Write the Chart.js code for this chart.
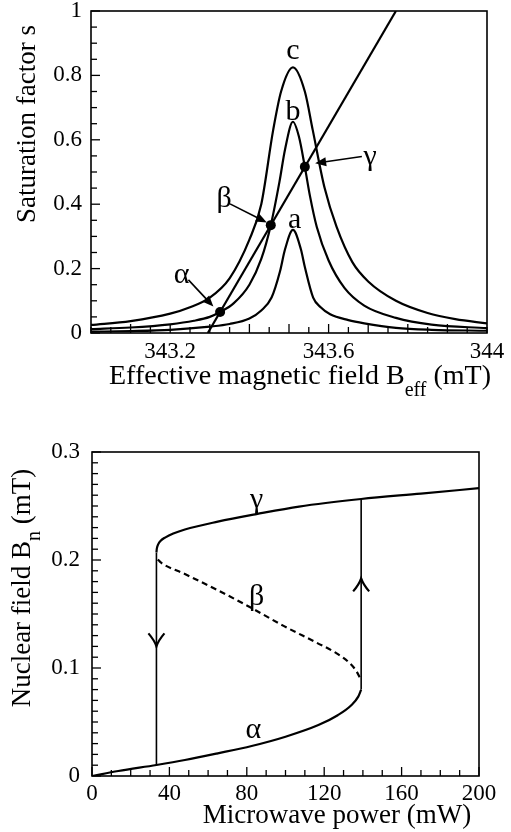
<!DOCTYPE html>
<html>
<head>
<meta charset="utf-8">
<script src="https://cdn.jsdelivr.net/npm/chart.js@4.4.1/dist/chart.umd.min.js"></script>
<style>
  body { margin: 0; background: #fff; }
  #wrap { position: relative; width: 511px; height: 832px; }
  canvas { position: absolute; left: 0; }
</style>
</head>
<body>
<div id="wrap">
  <canvas id="satChart" width="511" height="400" style="top:0"></canvas>
  <canvas id="nucChart" width="511" height="432" style="top:400px"></canvas>
</div>
<script>
// ---- top panel: saturation factor vs effective field ----
const fieldA = [343.00, 343.10, 343.20, 343.30, 343.35, 343.40, 343.43, 343.456, 343.477, 343.49, 343.51, 343.53, 343.54, 343.561, 343.58, 343.604, 343.65, 343.69, 343.77, 343.86, 344.00];
const satA   = [0.004, 0.006, 0.010, 0.020, 0.028, 0.045, 0.070, 0.110, 0.190, 0.260, 0.320, 0.260, 0.205, 0.110, 0.080, 0.058, 0.040, 0.030, 0.016, 0.010, 0.007];

const fieldB = [343.00, 343.10, 343.20, 343.26, 343.30, 343.326, 343.36, 343.40, 343.43, 343.454, 343.476, 343.49, 343.51, 343.525, 343.54, 343.553, 343.57, 343.60, 343.64, 343.69, 343.77, 343.86, 344.00];
const satB   = [0.012, 0.017, 0.027, 0.038, 0.050, 0.065, 0.092, 0.150, 0.230, 0.335, 0.470, 0.570, 0.656, 0.610, 0.516, 0.425, 0.330, 0.225, 0.140, 0.085, 0.047, 0.026, 0.015];

const fieldC = [343.00, 343.10, 343.20, 343.25, 343.30, 343.35, 343.40, 343.43, 343.46, 343.48, 343.51, 343.54, 343.56, 343.59, 343.62, 343.66, 343.70, 343.77, 343.85, 343.92, 344.00];
const satC   = [0.025, 0.037, 0.060, 0.080, 0.110, 0.170, 0.290, 0.400, 0.630, 0.750, 0.825, 0.750, 0.630, 0.450, 0.330, 0.220, 0.160, 0.100, 0.062, 0.043, 0.030];

// straight line and its three crossings with curve b
const lineField = [343.295, 343.77];
const lineSat   = [0, 1];
const dotField  = [343.326, 343.454, 343.540];
const dotSat    = [0.065, 0.335, 0.516];

const satYTicks   = [0, 0.2, 0.4, 0.6, 0.8, 1];
const fieldXTicks = [343.2, 343.6, 344];

// ---- bottom panel: nuclear field vs microwave power ----
const gammaPower = [33.3, 33.5, 34.2, 35.5, 38, 42, 48, 65, 85, 107, 139.1, 170, 200];
const gammaField = [0.207, 0.2105, 0.2145, 0.2178, 0.2210, 0.2245, 0.2283, 0.2355, 0.2425, 0.2495, 0.2565, 0.2615, 0.2665];

const betaPower = [34.0, 35.7, 48, 65, 82, 99, 116, 126.4, 133.3, 136.8, 139.0];
const betaField = [0.2005, 0.1975, 0.187, 0.172, 0.156, 0.139, 0.1235, 0.1136, 0.1043, 0.0966, 0.0889];

const alphaPower = [0, 13.6, 33.3, 48, 65, 82.5, 100, 117, 127, 134, 137.6, 139.1];
const alphaField = [0, 0.0046, 0.0102, 0.0148, 0.021, 0.0278, 0.0364, 0.0472, 0.0563, 0.0655, 0.0735, 0.080];

const downPower = [33.3, 33.3];
const downField = [0.207, 0.0102];
const upPower   = [139.1, 139.1];
const upField   = [0.080, 0.2565];

const powerXTicks   = [0, 40, 80, 120, 160, 200];
const nuclearYTicks = [0, 0.1, 0.2, 0.3];

const FONT = '"Liberation Serif", "Times New Roman", serif';

const pts = (xs, ys) => xs.map((x, i) => ({ x: x, y: ys[i] }));
const hasTick = (list, v) => list.some(t => Math.abs(t - v) < 1e-6);

function curve(xs, ys, extra) {
    return Object.assign({
        data: pts(xs, ys),
        borderColor: '#000',
        borderWidth: 2.2,
        pointRadius: 0,
        fill: false,
        tension: 0
    }, extra || {});
}

function axis(min, max, step, labels, size, pad, horizontal) {
    return {
        type: 'linear',
        min: min,
        max: max,
        grid: { display: false, drawTicks: false },
        border: { display: false },
        ticks: {
            stepSize: step,
            autoSkip: false,
            maxRotation: 0,
            padding: pad,
            color: '#000',
            font: { family: FONT, size: 23 },
            callback: v => hasTick(labels, v) ? String(Math.round(v * 1000) / 1000) : ''
        },
        afterFit: s => {
            if (horizontal) s.height = size; else s.width = size;
            s.paddingLeft = 0; s.paddingRight = 0;
            s.paddingTop = 0; s.paddingBottom = 0;
        }
    };
}

// text made of pieces, so a subscript can sit after a word
function drawRich(ctx, parts, cx, cy, rot) {
    ctx.save();
    ctx.translate(cx, cy);
    ctx.rotate(rot);
    ctx.textBaseline = 'alphabetic';
    ctx.textAlign = 'left';
    let total = 0;
    parts.forEach(p => { ctx.font = p.s + 'px ' + FONT; p.w = ctx.measureText(p.t).width; total += p.w; });
    let x = -total / 2;
    parts.forEach(p => {
        ctx.font = p.s + 'px ' + FONT;
        ctx.fillText(p.t, x, p.dy || 0);
        x += p.w;
    });
    ctx.restore();
}

function arrowHead(ctx, x0, y0, x1, y1) {
    const ang = Math.atan2(y1 - y0, x1 - x0);
    const len = 11, half = 4.5;
    ctx.beginPath();
    ctx.moveTo(x0, y0);
    ctx.lineTo(x1 - Math.cos(ang) * len * 0.8, y1 - Math.sin(ang) * len * 0.8);
    ctx.stroke();
    ctx.beginPath();
    ctx.moveTo(x1, y1);
    ctx.lineTo(x1 - Math.cos(ang) * len + Math.sin(ang) * half, y1 - Math.sin(ang) * len - Math.cos(ang) * half);
    ctx.lineTo(x1 - Math.cos(ang) * len - Math.sin(ang) * half, y1 - Math.sin(ang) * len + Math.cos(ang) * half);
    ctx.closePath();
    ctx.fill();
}

// box, inward ticks, labels and arrows
function makeFrame(cfg) {
    return {
        id: 'frame',
        afterDraw(chart) {
            const ctx = chart.ctx;
            const a = chart.chartArea;
            const sx = chart.scales.x, sy = chart.scales.y;
            ctx.save();
            ctx.strokeStyle = '#000';
            ctx.fillStyle = '#000';
            ctx.lineWidth = 1.6;
            ctx.strokeRect(a.left, a.top, a.right - a.left, a.bottom - a.top);

            ctx.lineWidth = 1.3;
            sx.ticks.forEach(t => {
                const px = sx.getPixelForValue(t.value);
                const len = hasTick(cfg.xMajor, t.value) ? 9 : 6;
                ctx.beginPath(); ctx.moveTo(px, a.bottom); ctx.lineTo(px, a.bottom - len); ctx.stroke();
            });
            sy.ticks.forEach(t => {
                const py = sy.getPixelForValue(t.value);
                const len = hasTick(cfg.yMajor, t.value) ? 9 : 6;
                ctx.beginPath(); ctx.moveTo(a.left, py); ctx.lineTo(a.left + len, py); ctx.stroke();
            });

            ctx.textAlign = 'center';
            ctx.textBaseline = 'middle';
            ctx.font = '30px ' + FONT;
            cfg.labels.forEach(l => {
                ctx.fillText(l.text, sx.getPixelForValue(l.x), sy.getPixelForValue(l.y));
            });

            ctx.lineWidth = 1.6;
            (cfg.arrows || []).forEach(r => {
                arrowHead(ctx, sx.getPixelForValue(r.x0), sy.getPixelForValue(r.y0),
                    sx.getPixelForValue(r.x1), sy.getPixelForValue(r.y1));
            });

            ctx.lineWidth = 2.2;
            (cfg.chevrons || []).forEach(c => {
                const px = sx.getPixelForValue(c.x), py = sy.getPixelForValue(c.y);
                const d = c.up ? 1 : -1;
                ctx.beginPath();
                ctx.moveTo(px - 8, py + d * 13);
                ctx.quadraticCurveTo(px - 2, py + d * 6, px, py);
                ctx.quadraticCurveTo(px + 2, py + d * 6, px + 8, py + d * 13);
                ctx.stroke();
            });
            ctx.restore();

            cfg.titles.forEach(t => drawRich(ctx, t.parts, t.x, t.y, t.rot || 0));
        }
    };
}

const baseOptions = (x, y, pad) => ({
    responsive: false,
    animation: false,
    layout: { padding: pad },
    plugins: { legend: { display: false }, tooltip: { enabled: false } },
    scales: { x: x, y: y }
});

new Chart(document.getElementById('satChart'), {
    type: 'line',
    data: {
        datasets: [
            curve(fieldA, satA, { cubicInterpolationMode: 'monotone' }),
            curve(fieldB, satB, { cubicInterpolationMode: 'monotone' }),
            curve(fieldC, satC, { cubicInterpolationMode: 'monotone' }),
            curve(lineField, lineSat),
            curve(dotField, dotSat, { showLine: false, pointRadius: 5, pointBackgroundColor: '#000', pointBorderColor: '#000', pointBorderWidth: 0 })
        ]
    },
    options: baseOptions(
        axis(343, 344, 0.05, fieldXTicks, 67, 5, true),
        axis(0, 1, 0.05, satYTicks, 91, 9, false),
        { top: 11, right: 24, left: 0, bottom: 0 }
    ),
    plugins: [makeFrame({
        xMajor: [343.1, 343.2, 343.3, 343.4, 343.5, 343.6, 343.7, 343.8, 343.9],
        yMajor: satYTicks,
        labels: [
            { text: 'c', x: 343.51, y: 0.876 },
            { text: 'b', x: 343.51, y: 0.686 },
            { text: 'a', x: 343.514, y: 0.351 },
            { text: 'α', x: 343.229, y: 0.180 },
            { text: 'β', x: 343.336, y: 0.416 },
            { text: 'γ', x: 343.705, y: 0.547 }
        ],
        arrows: [
            { x0: 343.246, y0: 0.165, x1: 343.309, y1: 0.082 },
            { x0: 343.351, y0: 0.401, x1: 343.444, y1: 0.343 },
            { x0: 343.684, y0: 0.548, x1: 343.566, y1: 0.527 }
        ],
        titles: [
            { parts: [{ t: 'Effective magnetic field B', s: 28 }, { t: 'eff', s: 20, dy: 12 }, { t: ' (mT)', s: 28 }], x: 300, y: 384 },
            { parts: [{ t: 'Saturation factor s', s: 27 }], x: 35, y: 124, rot: -Math.PI / 2 }
        ]
    })]
});

new Chart(document.getElementById('nucChart'), {
    type: 'line',
    data: {
        datasets: [
            curve(alphaPower, alphaField, { cubicInterpolationMode: 'monotone' }),
            curve(betaPower, betaField, { cubicInterpolationMode: 'monotone', borderDash: [6, 4] }),
            curve(gammaPower, gammaField, { cubicInterpolationMode: 'monotone' }),
            curve(downPower, downField, { borderWidth: 1.6 }),
            curve(upPower, upField, { borderWidth: 1.6 })
        ]
    },
    options: baseOptions(
        axis(0, 200, 10, powerXTicks, 56, 4, true),
        axis(0, 0.3, 0.01, nuclearYTicks, 92, 12, false),
        { top: 52, right: 32, left: 0, bottom: 0 }
    ),
    plugins: [makeFrame({
        xMajor: powerXTicks,
        yMajor: nuclearYTicks,
        labels: [
            { text: 'γ', x: 85.1, y: 0.2556 },
            { text: 'β', x: 85.1, y: 0.166 },
            { text: 'α', x: 83.4, y: 0.0426 }
        ],
        chevrons: [
            { x: 33.3, y: 0.120, up: false },
            { x: 139.1, y: 0.183, up: true }
        ],
        titles: [
            { parts: [{ t: 'Microwave power (mW)', s: 27 }], x: 337, y: 423 },
            { parts: [{ t: 'Nuclear field B', s: 27 }, { t: 'n', s: 20, dy: 10 }, { t: ' (mT)', s: 27 }], x: 30, y: 188, rot: -Math.PI / 2 }
        ]
    })]
});
</script>
</body>
</html>
